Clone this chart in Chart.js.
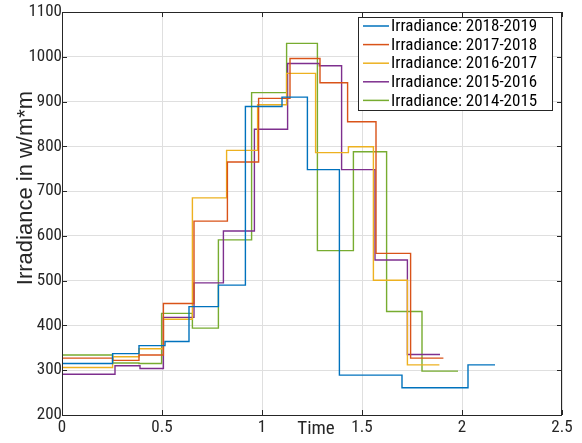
<!DOCTYPE html>
<html>
<head>
<meta charset="utf-8">
<script src="https://cdn.jsdelivr.net/npm/chart.js@4.4.1/dist/chart.umd.min.js"></script>
<style>
    body { margin: 0; background: #fff; }
    #wrap { width: 582px; height: 443px; }
</style>
</head>
<body>
<div id="wrap"><canvas id="myChart" width="582" height="443"></canvas></div>
<script>
// stairs data: each x is where a step starts, last x is where the series ends
const seriesNames = ['Irradiance: 2018-2019', 'Irradiance: 2017-2018', 'Irradiance: 2016-2017', 'Irradiance: 2015-2016', 'Irradiance: 2014-2015'];
const seriesColors = ['#0072BD', '#D95319', '#EDB120', '#7E2F8E', '#77AC30'];

const x2018 = [0, 0.253, 0.385, 0.515, 0.635, 0.782, 0.917, 1.10, 1.227, 1.387, 1.70, 2.03, 2.165];
const y2018 = [315, 337, 355, 364, 442, 490, 889, 910, 748, 289, 261, 312, 312];

const x2017 = [0, 0.253, 0.385, 0.507, 0.66, 0.827, 0.983, 1.14, 1.29, 1.428, 1.57, 1.743, 1.907];
const y2017 = [327, 322, 334, 449, 633, 765, 907, 996, 942, 855, 561, 327, 327];

const x2016 = [0, 0.253, 0.385, 0.507, 0.652, 0.823, 0.978, 1.123, 1.268, 1.432, 1.557, 1.727, 1.887];
const y2016 = [306, 330, 348, 414, 685, 791, 893, 963, 786, 799, 501, 312, 312];

const x2015 = [0, 0.265, 0.39, 0.507, 0.66, 0.807, 0.962, 1.128, 1.287, 1.398, 1.565, 1.727, 1.89];
const y2015 = [291, 310, 304, 418, 495, 611, 838, 985, 980, 748, 546, 335, 335];

const x2014 = [0, 0.253, 0.385, 0.498, 0.652, 0.782, 0.948, 1.123, 1.277, 1.457, 1.623, 1.80, 1.98];
const y2014 = [334, 316, 315, 427, 394, 591, 920, 1030, 567, 788, 431, 298, 298];

const xTicks = [0, 0.5, 1, 1.5, 2, 2.5];
const yTicks = [200, 300, 400, 500, 600, 700, 800, 900, 1000, 1100];
const xTitle = 'Time';
const yTitle = 'Irradiance in w/m*m';

const FONT = "'Liberation Sans Narrow', 'Arial Narrow', 'Roboto Condensed', 'Liberation Sans', sans-serif";
const WIDE = "'Liberation Sans', Arial, sans-serif";

function toPoints(xs, ys) {
    return xs.map((x, i) => ({ x: x, y: ys[i] }));
}

const allX = [x2018, x2017, x2016, x2015, x2014];
const allY = [y2018, y2017, y2016, y2015, y2014];

const datasets = seriesNames.map((name, i) => ({
    label: name,
    data: toPoints(allX[i], allY[i]),
    borderColor: seriesColors[i],
    backgroundColor: seriesColors[i],
    borderWidth: 1.4,
    pointRadius: 0,
    stepped: true,
    fill: false
}));

// box, inward ticks, axis titles and matlab style legend
const matlabLook = {
    id: 'matlabLook',
    afterDraw(chart) {
        const ctx = chart.ctx;
        const a = chart.chartArea;
        const xs = chart.scales.x;
        const ys = chart.scales.y;
        ctx.save();
        ctx.strokeStyle = '#262626';
        ctx.lineWidth = 1;
        ctx.strokeRect(a.left + 0.5, a.top + 0.5, a.right - a.left - 1, a.bottom - a.top);

        ctx.beginPath();
        xTicks.forEach(v => {
            const px = Math.round(xs.getPixelForValue(v)) + 0.5;
            ctx.moveTo(px, a.bottom); ctx.lineTo(px, a.bottom - 5);
            ctx.moveTo(px, a.top); ctx.lineTo(px, a.top + 5);
        });
        yTicks.forEach(v => {
            const py = Math.round(ys.getPixelForValue(v)) + 0.5;
            ctx.moveTo(a.left, py); ctx.lineTo(a.left + 5, py);
            ctx.moveTo(a.right, py); ctx.lineTo(a.right - 5, py);
        });
        ctx.stroke();

        // titles
        ctx.fillStyle = '#262626';
        ctx.font = '19px ' + FONT;
        ctx.textAlign = 'center';
        ctx.textBaseline = 'middle';
        ctx.fillText(xTitle, 316, 429);
        ctx.save();
        ctx.translate(26, 188);
        ctx.rotate(-Math.PI / 2);
        ctx.font = '22px ' + WIDE;
        ctx.fillText(yTitle, 0, 0);
        ctx.restore();

        // legend
        const lx = 358, ly = 17, lw = 194, lh = 93;
        ctx.fillStyle = '#fff';
        ctx.fillRect(lx, ly, lw, lh);
        ctx.strokeStyle = '#262626';
        ctx.strokeRect(lx + 0.5, ly + 0.5, lw, lh);
        ctx.font = '17px ' + FONT;
        ctx.textAlign = 'left';
        chart.data.datasets.forEach((d, i) => {
            const yy = 26 + i * 18.6;
            ctx.strokeStyle = d.borderColor;
            ctx.lineWidth = 1.5;
            ctx.beginPath();
            ctx.moveTo(363, yy); ctx.lineTo(389, yy);
            ctx.stroke();
            ctx.fillStyle = '#000';
            ctx.fillText(d.label, 391, yy + 1);
        });
        ctx.restore();
    }
};

const ctx = document.getElementById('myChart').getContext('2d');
const myChart = new Chart(ctx, {
    type: 'line',
    data: { datasets: datasets },
    options: {
        responsive: false,
        animation: false,
        layout: { padding: { top: 12, right: 20, left: 0, bottom: 0 } },
        plugins: {
            legend: { display: false },
            tooltip: { enabled: false }
        },
        scales: {
            x: {
                type: 'linear',
                min: 0,
                max: 2.5,
                afterFit(scale) { scale.height = 28; },
                afterBuildTicks(scale) { scale.ticks = xTicks.map(v => ({ value: v })); },
                grid: { color: '#dfdfdf', drawTicks: false },
                border: { display: false },
                ticks: {
                    color: '#262626',
                    padding: 3,
                    maxRotation: 0,
                    font: { family: FONT, size: 17 },
                    callback: v => String(v)
                }
            },
            y: {
                min: 200,
                max: 1100,
                afterFit(scale) { scale.width = 62; },
                afterBuildTicks(scale) { scale.ticks = yTicks.map(v => ({ value: v })); },
                grid: { color: '#dfdfdf', drawTicks: false },
                border: { display: false },
                ticks: {
                    color: '#262626',
                    padding: 0,
                    font: { family: FONT, size: 17 },
                    callback: v => String(v)
                }
            }
        }
    },
    plugins: [matlabLook]
});
</script>
</body>
</html>
